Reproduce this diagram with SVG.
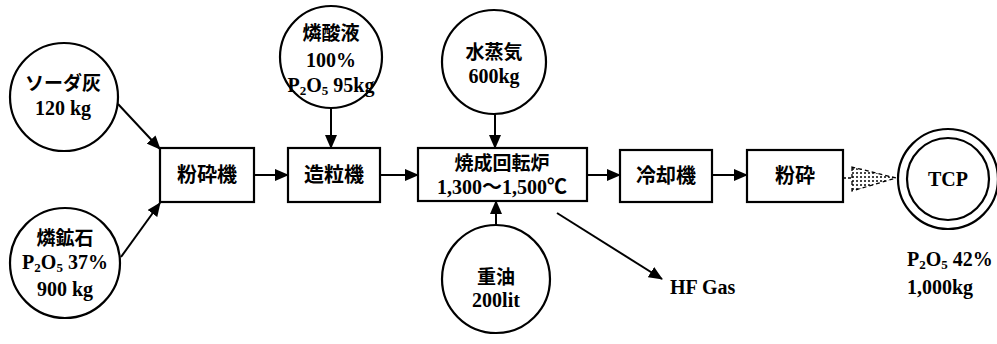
<svg xmlns="http://www.w3.org/2000/svg" width="997" height="344" viewBox="0 0 997 344">
<style>
.n{fill:#fff;stroke:#000;stroke-width:2.2}
.t{font-family:"Liberation Serif","Noto Sans CJK JP",serif;font-size:20px;fill:#000;text-anchor:middle;font-weight:bold}
.j{font-family:"Noto Sans CJK JP","Liberation Serif",sans-serif;font-size:19px;fill:#000;text-anchor:middle;font-weight:bold}
.s{font-size:13px}
.c{fill:none;stroke:#000;stroke-width:2}
</style>
<defs>
<marker id="ah" markerUnits="userSpaceOnUse" markerWidth="14" markerHeight="12" refX="13" refY="6" orient="auto">
<path d="M0,0 L14,6 L0,12 Z" fill="#000"/>
</marker>
<pattern id="dots" width="4" height="4" patternUnits="userSpaceOnUse">
<rect x="0" y="0" width="2" height="2" fill="#444"/>
</pattern>
</defs>
<rect width="997" height="344" fill="#fff"/>
<g id="connectors">
<line class="c" x1="118" y1="104" x2="160" y2="149" marker-end="url(#ah)"/>
<line class="c" x1="121" y1="257" x2="160" y2="203" marker-end="url(#ah)"/>
<line class="c" x1="254" y1="175" x2="288" y2="175" marker-end="url(#ah)"/>
<line class="c" x1="331" y1="108" x2="331" y2="148" marker-end="url(#ah)"/>
<line class="c" x1="380" y1="175" x2="418" y2="175" marker-end="url(#ah)"/>
<line class="c" x1="495" y1="114" x2="495" y2="148" marker-end="url(#ah)"/>
<line class="c" x1="496" y1="225" x2="496" y2="201" marker-end="url(#ah)"/>
<line class="c" x1="557" y1="213" x2="662" y2="279" marker-end="url(#ah)"/>
<line class="c" x1="587" y1="175" x2="620" y2="175" marker-end="url(#ah)"/>
<line class="c" x1="712" y1="175" x2="747" y2="175" marker-end="url(#ah)"/>
<g id="dashed-arrow">
<line x1="843" y1="178" x2="852" y2="178" stroke="#000" stroke-width="1.5" stroke-dasharray="3,2"/>
<path d="M852,167 L852,191 L896,178 Z" fill="url(#dots)" stroke="#000" stroke-width="1.3" stroke-dasharray="4,3"/>
</g>
</g>
<g id="soda">
<circle class="n" cx="64" cy="97" r="54"/>
<text class="j" x="63" y="90">ソーダ灰</text>
<text class="t" x="63" y="115">120 kg</text>
</g>
<g id="rinkouseki">
<circle class="n" cx="65" cy="263" r="55"/>
<text class="j" x="65" y="245">燐鉱石</text>
<text class="t" x="65" y="269">P<tspan class="s" dy="3">2</tspan><tspan dy="-3">O</tspan><tspan class="s" dy="3">5</tspan><tspan dy="-3"> 37%</tspan></text>
<text class="t" x="65" y="296">900 kg</text>
</g>
<g id="funsaiki">
<rect class="n" x="160" y="148" width="94" height="54"/>
<text class="j" x="207" y="182" style="font-size:20px">粉砕機</text>
</g>
<g id="rinsan">
<circle class="n" cx="331" cy="57" r="51"/>
<text class="j" x="331" y="40">燐酸液</text>
<text class="t" x="331" y="67">100%</text>
<text class="t" x="331" y="92">P<tspan class="s" dy="3">2</tspan><tspan dy="-3">O</tspan><tspan class="s" dy="3">5</tspan><tspan dy="-3"> 95kg</tspan></text>
</g>
<g id="zouryuuki">
<rect class="n" x="288" y="148" width="92" height="54"/>
<text class="j" x="334" y="182" style="font-size:20px">造粒機</text>
</g>
<g id="suijouki">
<circle class="n" cx="494" cy="62" r="52"/>
<text class="j" x="494" y="59">水蒸気</text>
<text class="t" x="494" y="83">600kg</text>
</g>
<g id="shousei">
<rect class="n" x="418" y="148" width="169" height="53"/>
<text class="j" x="502" y="170">焼成回転炉</text>
<text class="t" x="502" y="194">1,300～1,500℃</text>
</g>
<g id="juuyu">
<circle class="n" cx="496" cy="279" r="54"/>
<text class="j" x="496" y="284">重油</text>
<text class="t" x="496" y="307">200lit</text>
</g>
<g id="reikyaku">
<rect class="n" x="620" y="150" width="92" height="52"/>
<text class="j" x="666" y="183" style="font-size:20px">冷却機</text>
</g>
<g id="funsai">
<rect class="n" x="747" y="150" width="96" height="52"/>
<text class="j" x="795" y="183" style="font-size:20px">粉砕</text>
</g>
<g id="hfgas">
<text class="t" x="670" y="294" style="text-anchor:start">HF Gas</text>
</g>
<g id="tcp">
<circle class="n" cx="948" cy="179" r="50"/>
<circle class="n" cx="948" cy="179" r="41"/>
<text class="t" x="948" y="186">TCP</text>
<text class="t" x="907" y="266" style="text-anchor:start">P<tspan class="s" dy="3">2</tspan><tspan dy="-3">O</tspan><tspan class="s" dy="3">5</tspan><tspan dy="-3"> 42%</tspan></text>
<text class="t" x="907" y="294" style="text-anchor:start">1,000kg</text>
</g>
</svg>
